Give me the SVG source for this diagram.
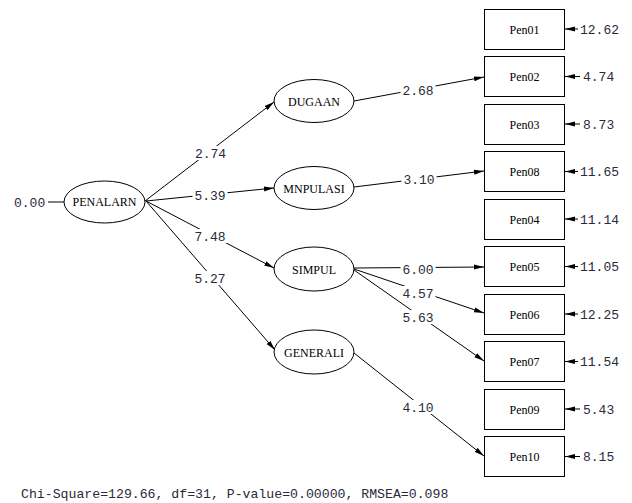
<svg xmlns="http://www.w3.org/2000/svg" width="632" height="503" viewBox="0 0 632 503">
<style>
.lv ellipse{fill:#fff;stroke:#000;stroke-width:1}
.ov rect{fill:#fff;stroke:#000;stroke-width:1}
.nt{font-family:"Liberation Serif","Times New Roman",serif;font-size:12px;fill:#000;text-anchor:middle}
.num{font-family:"Liberation Mono","Courier New",monospace;font-size:13px;fill:#2a2a3a}
.lbl{text-anchor:middle}
.bg{fill:#fff;stroke:none}
.c line{stroke:#000;stroke-width:1;fill:none}
.arr{marker-end:url(#ah)}
</style>
<defs>
<marker id="ah" markerUnits="userSpaceOnUse" markerWidth="10" markerHeight="6" refX="10" refY="3" orient="auto">
<path d="M0,0.5 L10,3 L0,5.5 Z" fill="#000"/>
</marker>
</defs>
<rect width="632" height="503" fill="#fff"/>
<g id="connectors" class="c">
<line x1="48" y1="202" x2="64" y2="202"/>
<line class="arr" x1="145" y1="201" x2="274" y2="102"/>
<line class="arr" x1="146" y1="201" x2="274" y2="188"/>
<line class="arr" x1="146" y1="201" x2="274" y2="268"/>
<line class="arr" x1="146" y1="201" x2="275" y2="350"/>
<line class="arr" x1="354" y1="101" x2="484" y2="77"/>
<line class="arr" x1="354" y1="187" x2="484" y2="171"/>
<line class="arr" x1="354" y1="268" x2="484" y2="267"/>
<line class="arr" x1="354" y1="269" x2="484" y2="313"/>
<line class="arr" x1="354" y1="270" x2="484" y2="361"/>
<line class="arr" x1="354" y1="353" x2="484" y2="456"/>
<g id="errors">
<line class="arr" x1="578" y1="29" x2="565" y2="29"/>
<line class="arr" x1="580" y1="76.5" x2="565" y2="76.5"/>
<line class="arr" x1="580" y1="124" x2="565" y2="124"/>
<line class="arr" x1="578" y1="171.5" x2="565" y2="171.5"/>
<line class="arr" x1="578" y1="219" x2="565" y2="219"/>
<line class="arr" x1="578" y1="266.5" x2="565" y2="266.5"/>
<line class="arr" x1="578" y1="314" x2="565" y2="314"/>
<line class="arr" x1="578" y1="361.5" x2="565" y2="361.5"/>
<line class="arr" x1="580" y1="409" x2="565" y2="409"/>
<line class="arr" x1="580" y1="456.5" x2="565" y2="456.5"/>
</g>
</g>
<g id="path-labels" class="num">
<rect class="bg" x="193" y="146" width="35" height="14"/><text class="lbl" x="210.5" y="157.5">2.74</text>
<rect class="bg" x="192.5" y="188" width="35" height="14"/><text class="lbl" x="210" y="199.5">5.39</text>
<rect class="bg" x="192.5" y="229" width="35" height="14"/><text class="lbl" x="210" y="240.5">7.48</text>
<rect class="bg" x="192.5" y="271" width="35" height="14"/><text class="lbl" x="210" y="282.5">5.27</text>
<rect class="bg" x="400.5" y="83" width="35" height="14"/><text class="lbl" x="418" y="94.5">2.68</text>
<rect class="bg" x="401.5" y="172" width="35" height="14"/><text class="lbl" x="419" y="183.5">3.10</text>
<rect class="bg" x="400.5" y="262" width="35" height="14"/><text class="lbl" x="418" y="273.5">6.00</text>
<rect class="bg" x="400.5" y="286" width="35" height="14"/><text class="lbl" x="418" y="297.5">4.57</text>
<rect class="bg" x="400.5" y="310" width="35" height="14"/><text class="lbl" x="418" y="321.5">5.63</text>
<rect class="bg" x="400.5" y="400" width="35" height="14"/><text class="lbl" x="418" y="411.5">4.10</text>
</g>
<g id="error-labels" class="num">
<text x="14" y="206.5">0.00</text>
<text x="580" y="33.5">12.62</text>
<text x="583" y="81">4.74</text>
<text x="583" y="128.5">8.73</text>
<text x="580" y="176">11.65</text>
<text x="580" y="223.5">11.14</text>
<text x="580" y="271">11.05</text>
<text x="580" y="318.5">12.25</text>
<text x="580" y="366">11.54</text>
<text x="583" y="413.5">5.43</text>
<text x="583" y="461">8.15</text>
</g>
<g id="PENALARN" class="lv"><ellipse cx="104.5" cy="202" rx="40.5" ry="21"/><text class="nt" x="104.5" y="206">PENALARN</text></g>
<g id="DUGAAN" class="lv"><ellipse cx="314" cy="101" rx="40" ry="21.5"/><text class="nt" x="314" y="105.5">DUGAAN</text></g>
<g id="MNPULASI" class="lv"><ellipse cx="314" cy="188" rx="40" ry="21.5"/><text class="nt" x="314" y="192.5">MNPULASI</text></g>
<g id="SIMPUL" class="lv"><ellipse cx="314" cy="269" rx="40" ry="22"/><text class="nt" x="314" y="273.5">SIMPUL</text></g>
<g id="GENERALI" class="lv"><ellipse cx="314" cy="352" rx="40" ry="22"/><text class="nt" x="314" y="356.5">GENERALI</text></g>
<g id="Pen01" class="ov"><rect x="484.5" y="9.5" width="80" height="40"/><text class="nt" x="524.5" y="33.5">Pen01</text></g>
<g id="Pen02" class="ov"><rect x="484.5" y="56.5" width="80" height="40"/><text class="nt" x="524.5" y="80.5">Pen02</text></g>
<g id="Pen03" class="ov"><rect x="484.5" y="104.5" width="80" height="40"/><text class="nt" x="524.5" y="128.5">Pen03</text></g>
<g id="Pen08" class="ov"><rect x="484.5" y="151.5" width="80" height="40"/><text class="nt" x="524.5" y="175.5">Pen08</text></g>
<g id="Pen04" class="ov"><rect x="484.5" y="199.5" width="80" height="40"/><text class="nt" x="524.5" y="223.5">Pen04</text></g>
<g id="Pen05" class="ov"><rect x="484.5" y="246.5" width="80" height="40"/><text class="nt" x="524.5" y="270.5">Pen05</text></g>
<g id="Pen06" class="ov"><rect x="484.5" y="294.5" width="80" height="40"/><text class="nt" x="524.5" y="318.5">Pen06</text></g>
<g id="Pen07" class="ov"><rect x="484.5" y="341.5" width="80" height="40"/><text class="nt" x="524.5" y="365.5">Pen07</text></g>
<g id="Pen09" class="ov"><rect x="484.5" y="389.5" width="80" height="40"/><text class="nt" x="524.5" y="413.5">Pen09</text></g>
<g id="Pen10" class="ov"><rect x="484.5" y="436.5" width="80" height="40"/><text class="nt" x="524.5" y="460.5">Pen10</text></g>
<text class="num" x="21" y="498" style="font-size:13.2px">Chi-Square=129.66, df=31, P-value=0.00000, RMSEA=0.098</text>
</svg>
